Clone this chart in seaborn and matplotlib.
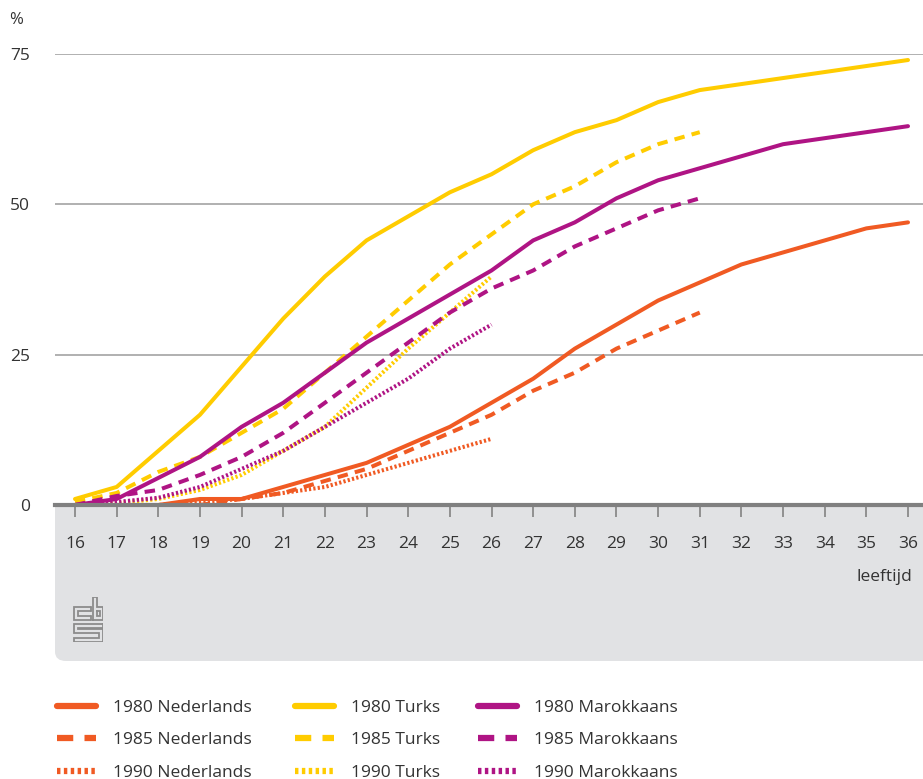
import numpy as np
import pandas as pd
import seaborn as sns
import matplotlib
matplotlib.use("Agg")
import matplotlib.pyplot as plt
from matplotlib.lines import Line2D
from matplotlib.patches import FancyBboxPatch

# leeftijd (x-as)
leeftijd = list(range(16, 37))

# percentages per geboortecohort en herkomst
ned_1980 = [0, 0, 0, 1, 1, 3, 5, 7, 10, 13, 17, 21, 26, 30, 34, 37, 40, 42, 44, 46, 47]
ned_1985 = [0, 0, 0, 0, 1, 2, 4, 6, 9, 12, 15, 19, 22, 26, 29, 32]
ned_1990 = [0, 0, 0, 0.5, 1, 2, 3, 5, 7, 9, 11]

turk_1980 = [1, 3, 9, 15, 23, 31, 38, 44, 48, 52, 55, 59, 62, 64, 67, 69, 70, 71, 72, 73, 74]
turk_1985 = [0.5, 2, 5.5, 8, 12, 16, 22, 28, 34, 40, 45, 50, 53, 57, 60, 62]
turk_1990 = [0, 0.3, 1, 2.5, 5, 9, 13, 19.5, 26, 32, 38]

mar_1980 = [0, 1, 4.5, 8, 13, 17, 22, 27, 31, 35, 39, 44, 47, 51, 54, 56, 58, 60, 61, 62, 63]
mar_1985 = [0, 1.5, 2.5, 5, 8, 12, 17, 22, 27, 32, 36, 39, 43, 46, 49, 51]
mar_1990 = [0, 0.5, 1.2, 3, 6, 9, 13, 17, 21, 26, 30]

groepen = ["Nederlands", "Turks", "Marokkaans"]
cohorten = ["1980", "1985", "1990"]
y_ticks = [0, 25, 50, 75]

reeksen = {
    ("Nederlands", "1980"): ned_1980, ("Nederlands", "1985"): ned_1985, ("Nederlands", "1990"): ned_1990,
    ("Turks", "1980"): turk_1980, ("Turks", "1985"): turk_1985, ("Turks", "1990"): turk_1990,
    ("Marokkaans", "1980"): mar_1980, ("Marokkaans", "1985"): mar_1985, ("Marokkaans", "1990"): mar_1990,
}

rows = []
for (groep, cohort), vals in reeksen.items():
    for age, v in zip(leeftijd, vals):
        rows.append({"leeftijd": age, "pct": v, "groep": groep, "cohort": cohort})
df = pd.DataFrame(rows)

kleuren = {"Nederlands": "#F05A23", "Turks": "#FFCC00", "Marokkaans": "#AF1484"}
streep = {"1980": "", "1985": (2.6, 1.8), "1990": (0.55, 0.55)}
tekst = "#333333"

sns.set_style("white")
plt.rcParams["font.family"] = ["Open Sans", "DejaVu Sans"]

W, H = 923, 779
fig = plt.figure(figsize=(W / 100, H / 100), dpi=100)


def fx(x):
    return x / W


def fy(y):
    return 1 - y / H


# grijs vlak onder de x-as
paneel = FancyBboxPatch((fx(55), fy(661)), fx(923 + 40) - fx(55), fy(480) - fy(661),
                        boxstyle="round,pad=0,rounding_size=0.012", transform=fig.transFigure,
                        facecolor="#E1E2E4", edgecolor="none", zorder=-5)
fig.patches.append(paneel)

ax = fig.add_axes([fx(55), fy(505), fx(923) - fx(55), fy(54) - fy(505)])
ax.set_facecolor("white")

sns.lineplot(data=df, x="leeftijd", y="pct", hue="groep", style="cohort",
             hue_order=groepen, style_order=cohorten, palette=kleuren,
             dashes=streep, linewidth=2.9, legend=False, ax=ax, estimator=None,
             sort=False)
for ln in ax.lines:
    ln.set_solid_joinstyle("round")
    ln.set_dash_capstyle("butt")

ax.set_xlim(16 - 20 / 41.65, 36 + 15 / 41.65)
ax.set_ylim(0, 75)
ax.set_xticks(leeftijd)
ax.set_xticklabels([str(a) for a in leeftijd])
ax.set_yticks(y_ticks)
ax.set_yticklabels([str(t) for t in y_ticks])
ax.set_xlabel("")
ax.set_ylabel("")
for s in ["top", "right", "left"]:
    ax.spines[s].set_visible(False)
ax.spines["bottom"].set_color("#808080")
ax.spines["bottom"].set_linewidth(3)
ax.spines["bottom"].set_zorder(5)
ax.grid(axis="y", color="#AAAAAA", linewidth=1.3)
ax.grid(axis="x", visible=False)
ax.set_axisbelow(True)
ax.tick_params(axis="x", direction="out", length=8.5, width=1.3, color="#8A8A8A",
               pad=14, labelsize=12.5, labelcolor=tekst)
ax.tick_params(axis="y", length=0, pad=18, labelsize=12.5, labelcolor=tekst)
ax.tick_params(axis="x", bottom=True)

fig.text(fx(9), fy(20), "%", fontsize=12, color=tekst, va="center", ha="left")
fig.text(fx(912), fy(577), "leeftijd", fontsize=12.5, color=tekst, va="center", ha="right")

# cbs-logo
lax = fig.add_axes([fx(73), fy(642), fx(103) - fx(73), fy(597) - fy(642)])
lax.set_xlim(-0.5, 29.5)
lax.set_ylim(45.5, -0.5)
lax.axis("off")
logo = [
    [(17, 10), (0, 10), (0, 23), (17, 23)],
    [(17, 14), (4, 14), (4, 19), (17, 19)],
    [(17, 14), (17, 10)],
    [(17, 19), (17, 23)],
    [(19, 23), (19, 0), (23, 0), (23, 10), (29, 10), (29, 23), (19, 23)],
    [(23, 14), (26, 14), (26, 19), (23, 19), (23, 14)],
    [(29, 27), (0, 27), (0, 36), (25, 36), (25, 41), (0, 41), (0, 45), (29, 45),
     (29, 32), (4, 32), (4, 31), (29, 31), (29, 27)],
]
for pad in logo:
    xs, ys = zip(*pad)
    lax.plot(xs, ys, color="#8C8C8C", linewidth=1.3, solid_joinstyle="miter")

# legenda: drie kolommen
kolom_x = [57, 295, 478]
for groep, kx in zip(groepen, kolom_x):
    handles = [Line2D([0], [0], color=kleuren[groep], linewidth=4.5,
                      linestyle="-" if streep[c] == "" else (0, streep[c]))
               for c in cohorten]
    labels = [f"{c} {groep}" for c in cohorten]
    leg = fig.legend(handles, labels, loc="upper left",
                     bbox_to_anchor=(fx(kx), fy(700)), frameon=False,
                     fontsize=12.5, handlelength=2.25, handletextpad=0.95,
                     labelspacing=0.93, borderpad=0, borderaxespad=0,
                     labelcolor=tekst)
    for h in leg.legend_handles:
        h.set_dash_capstyle("butt")

fig.savefig("out.png", dpi=100)
